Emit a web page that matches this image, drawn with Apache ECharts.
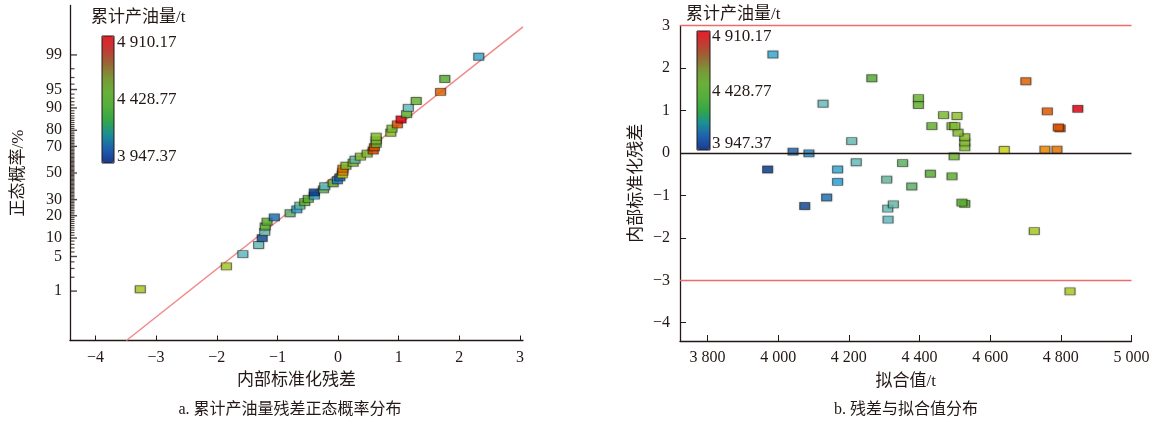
<!DOCTYPE html>
<html><head><meta charset="utf-8">
<script src="https://cdn.jsdelivr.net/npm/echarts@6/dist/echarts.min.js"></script>
<style>html,body{margin:0;padding:0;background:#fff}#c{width:1156px;height:427px}</style>
</head><body><div id="c"></div>
<script>
// ---- data (observations sorted by internally studentized residual) ----
const residual = [-3.26,-1.84,-1.57,-1.31,-1.25,-1.21,-1.20,-1.17,-1.05,-0.79,-0.68,-0.63,-0.55,-0.49,-0.39,-0.39,-0.24,-0.22,-0.08,-0.01,0.03,0.07,0.08,0.08,0.13,0.25,0.28,0.37,0.48,0.58,0.60,0.63,0.63,0.63,0.87,0.89,0.98,1.04,1.13,1.16,1.29,1.69,1.76,2.32];
const fitted   = [4826,4725,4311,4310,4075,4326,4528,4520,4137,4378,4168,4307,4492,4431,4168,3970,4352,4221,4498,4087,4042,4640,4755,4789,4528,4528,4208,4528,4509,4798,4793,4435,4492,4500,4506,4468,4762,4848,4397,4127,4397,4701,4265,3985];
const oilProd  = [4598,4596,4201,4218,3988,4241,4444,4438,4063,4323,4120,4263,4454,4397,4141,3943,4335,4206,4492,4086,4044,4645,4761,4795,4537,4545,4228,4554,4543,4839,4835,4479,4536,4544,4567,4530,4831,4910,4476,4208,4487,4819,4388,4147];
const probPct  = [1.1,3.3,5.5,7.8,10.0,12.3,14.6,16.9,19.1,21.4,23.7,26.0,28.3,30.5,32.8,35.1,37.4,39.7,42.0,44.3,46.6,48.9,51.1,53.4,55.7,58.0,60.3,62.6,64.9,67.1,69.4,71.7,74.0,76.3,78.6,80.9,83.1,85.4,87.7,90.0,92.2,94.5,96.8,98.9];
const refLineRes = [-3.49, 3.05];
const refLinePct = [0.0483, 99.80];
const colorMin = 3947.37, colorMax = 4910.17;
const colorLabels = ['4 910.17','4 428.77','3 947.37'];
const probTicks = [1,5,10,20,30,50,70,80,90,95,99];
const xTicksA = [-4,-3,-2,-1,0,1,2,3];
const xTicksB = [3800,4000,4200,4400,4600,4800,5000];
const yTicksB = [-4,-3,-2,-1,0,1,2,3];
const limitLevels = [3,-3];
const zeroLevel = 0;

// inverse standard normal CDF (probability axis transform)
function normInv(p){
  const a=[-39.69683028665376,220.9460984245205,-275.9285104469687,138.3577518672690,-30.66479806614716,2.506628277459239];
  const b=[-54.47609879822406,161.5858368580409,-155.6989798598866,66.80131188771972,-13.28068155288572];
  const c=[-0.007784894002430293,-0.3223964580411365,-2.400758277161838,-2.549732539343734,4.374664141464968,2.938163982698783];
  const d=[0.007784695709041462,0.3224671290700398,2.445134137142996,3.754408661907416];
  const pl=0.02425; let q,r;
  if(p<pl){q=Math.sqrt(-2*Math.log(p));return (((((c[0]*q+c[1])*q+c[2])*q+c[3])*q+c[4])*q+c[5])/((((d[0]*q+d[1])*q+d[2])*q+d[3])*q+1);}
  if(p>1-pl){q=Math.sqrt(-2*Math.log(1-p));return -(((((c[0]*q+c[1])*q+c[2])*q+c[3])*q+c[4])*q+c[5])/((((d[0]*q+d[1])*q+d[2])*q+d[3])*q+1);}
  q=p-0.5;r=q*q;return (((((a[0]*r+a[1])*r+a[2])*r+a[3])*r+a[4])*r+a[5])*q/(((((b[0]*r+b[1])*r+b[2])*r+b[3])*r+b[4])*r+1);
}
const zOf = pct => normInv(pct/100);
const tickPct = []; for(let i=1;i<=99;i++) tickPct.push(i);   // probability-paper tick marks

const FONT = "'Liberation Serif','Noto Sans CJK SC',serif";
const INK = '#231815';
const fmtSpace = v => { const s=String(Math.abs(v)); const t = s.length>3 ? s.slice(0,s.length-3)+' '+s.slice(-3) : s; return (v<0?'\u2212':'')+t; };

const X_MIN_A = -4.42, X_MAX_A = 3.05, Z_MIN = -3.3, Z_MAX = 3.3;
const dataA = residual.map((r,i)=>[r, zOf(probPct[i]), oilProd[i]]);
const dataB = fitted.map((f,i)=>[f, residual[i], oilProd[i]]);
const lineA = refLineRes.map((r,i)=>[r, zOf(refLinePct[i])]);
const minorTickData = tickPct.filter(p=>probTicks.indexOf(p)<0).map(p=>[X_MIN_A, zOf(p)]);
const majorTickData = probTicks.map(p=>[X_MIN_A, zOf(p)]);

const axisLine = {show:true, onZero:false, lineStyle:{color:INK, width:1.3}};
const lab = {fontFamily:FONT, fontSize:16, color:INK};

const pointStyle = {borderColor:'rgba(0,0,0,0.55)', borderWidth:1, shadowColor:'rgba(0,0,0,0.3)', shadowBlur:2};

const chart = echarts.init(document.getElementById('c'), null, {renderer:'canvas'});
chart.setOption({
  animation:false,
  backgroundColor:'#fff',
  textStyle:{fontFamily:FONT},
  grid:[{left:70, top:5.5, width:453, height:335},{left:680, top:25.6, width:451.5, height:315.4}],
  xAxis:[
    {type:'value', gridIndex:0, min:X_MIN_A, max:X_MAX_A, axisLine,
     axisTick:{inside:true, length:5, lineStyle:{color:INK}, customValues:xTicksA},
     axisLabel:Object.assign({customValues:xTicksA, margin:9, formatter:v=>fmtSpace(v)}, lab),
     splitLine:{show:false},
     name:'内部标准化残差', nameLocation:'middle', nameGap:32, nameTextStyle:{fontFamily:FONT, fontSize:17, color:INK}},
    {type:'value', gridIndex:1, min:3722, max:5000, axisLine,
     axisTick:{inside:true, length:6, lineStyle:{color:INK}, customValues:xTicksB},
     axisLabel:Object.assign({customValues:xTicksB, margin:9, formatter:v=>fmtSpace(v)}, lab),
     splitLine:{show:false},
     name:'拟合值/t', nameLocation:'middle', nameGap:32, nameTextStyle:{fontFamily:FONT, fontSize:17, color:INK}}
  ],
  yAxis:[
    {type:'value', gridIndex:0, min:Z_MIN, max:Z_MAX, axisLine,
     axisTick:{show:false},
     axisLabel:Object.assign({customValues:probTicks.map(zOf), margin:8,
       formatter:v=>{let best=probTicks[0],bd=1e9;probTicks.forEach(p=>{const dd=Math.abs(zOf(p)-v);if(dd<bd){bd=dd;best=p;}});return String(best);}}, lab),
     splitLine:{show:false},
     name:'正态概率/%', nameLocation:'middle', nameGap:43, nameTextStyle:{fontFamily:FONT, fontSize:17, color:INK}},
    {type:'value', gridIndex:1, min:-4.43, max:3, axisLine,
     axisTick:{inside:true, length:6, lineStyle:{color:INK}, customValues:yTicksB},
     axisLabel:Object.assign({customValues:yTicksB, margin:10, formatter:v=>fmtSpace(v)}, lab),
     splitLine:{show:false},
     name:'内部标准化残差', nameLocation:'middle', nameGap:35, nameTextStyle:{fontFamily:FONT, fontSize:17, color:INK}}
  ],
  visualMap:[
    {type:'continuous', show:false, dimension:2, min:colorMin, max:colorMax, seriesIndex:[1,3],
     inRange:{color:['#0b3d8e','#1f60aa','#2aa8e0','#6cc6c6','#68bd88','#5cb436','#66b832','#93c833','#d6df12','#f4a000','#ec6500','#e60012']}},
    {type:'continuous', show:true, min:colorMin, max:colorMax, seriesIndex:[4], calculable:false, hoverLink:false,
     left:102, top:36, itemWidth:12, itemHeight:127, padding:0, text:null, showLabel:false,
     inRange:{color:['#1a3a8e','#1f5fae','#1b8e96','#33a748','#55ae3c','#68b03a','#7a9838','#976836','#c03c34','#e61f2a']}},
    {type:'continuous', show:true, min:colorMin, max:colorMax, seriesIndex:[5], calculable:false, hoverLink:false,
     left:697, top:31, itemWidth:13, itemHeight:119, padding:0, text:null, showLabel:false,
     inRange:{color:['#1a3a8e','#1f5fae','#1b8e96','#33a748','#55ae3c','#68b03a','#7a9838','#976836','#c03c34','#e61f2a']}}
  ],
  series:[
    {type:'line', xAxisIndex:0, yAxisIndex:0, data:lineA, symbol:'none', lineStyle:{color:'#f08a8a', width:1.5}, silent:true, z:1},
    {type:'scatter', xAxisIndex:0, yAxisIndex:0, data:dataA, symbol:'rect', symbolSize:[10,7], itemStyle:pointStyle, z:3},
    {type:'line', xAxisIndex:1, yAxisIndex:1, data:[], symbol:'none', silent:true,
     markLine:{symbol:'none', silent:true, label:{show:false},
       data:[{yAxis:zeroLevel, lineStyle:{color:INK, width:1.3, type:'solid'}}].concat(limitLevels.map(v=>({yAxis:v, lineStyle:{color:'#ee6b6b', width:1.3, type:'solid'}})))}},
    {type:'scatter', xAxisIndex:1, yAxisIndex:1, data:dataB, symbol:'rect', symbolSize:[10,7], itemStyle:pointStyle, z:3},
    {type:'scatter', xAxisIndex:0, yAxisIndex:0, data:[]},
    {type:'scatter', xAxisIndex:1, yAxisIndex:1, data:[]},
    {type:'scatter', xAxisIndex:0, yAxisIndex:0, data:minorTickData, symbol:'rect', symbolSize:[4.5,1.2], symbolOffset:[2.25,0],
     itemStyle:{color:INK}, silent:true, clip:false, z:5},
    {type:'scatter', xAxisIndex:0, yAxisIndex:0, data:majorTickData, symbol:'rect', symbolSize:[7,1.4], symbolOffset:[3.5,0],
     itemStyle:{color:INK}, silent:true, clip:false, z:5}
  ],
  graphic:[
    {type:'rect', shape:{x:102,y:36,width:12,height:127}, style:{fill:null, stroke:INK, lineWidth:1}, z:100},
    {type:'rect', shape:{x:697,y:31,width:13,height:119}, style:{fill:null, stroke:INK, lineWidth:1}, z:100},
    {type:'text', left:91, top:9, style:{text:'累计产油量/t', font:"17px "+FONT, fill:INK}},
    {type:'text', left:686, top:6, style:{text:'累计产油量/t', font:"17px "+FONT, fill:INK}},
    {type:'text', x:117, y:43, style:{text:colorLabels[0], font:"17px "+FONT, fill:INK, verticalAlign:'middle'}},
    {type:'text', x:117, y:100, style:{text:colorLabels[1], font:"17px "+FONT, fill:INK, verticalAlign:'middle'}},
    {type:'text', x:117, y:157, style:{text:colorLabels[2], font:"17px "+FONT, fill:INK, verticalAlign:'middle'}},
    {type:'text', x:712, y:37, style:{text:colorLabels[0], font:"17px "+FONT, fill:INK, verticalAlign:'middle'}},
    {type:'text', x:712, y:92, style:{text:colorLabels[1], font:"17px "+FONT, fill:INK, verticalAlign:'middle'}},
    {type:'text', x:712, y:144, style:{text:colorLabels[2], font:"17px "+FONT, fill:INK, verticalAlign:'middle'}},
    {type:'text', x:290, y:410, style:{text:'a. 累计产油量残差正态概率分布', font:"16px "+FONT, fill:INK, align:'center', verticalAlign:'middle'}},
    {type:'text', x:906, y:410, style:{text:'b. 残差与拟合值分布', font:"16px "+FONT, fill:INK, align:'center', verticalAlign:'middle'}}
  ]
});
</script></body></html>
